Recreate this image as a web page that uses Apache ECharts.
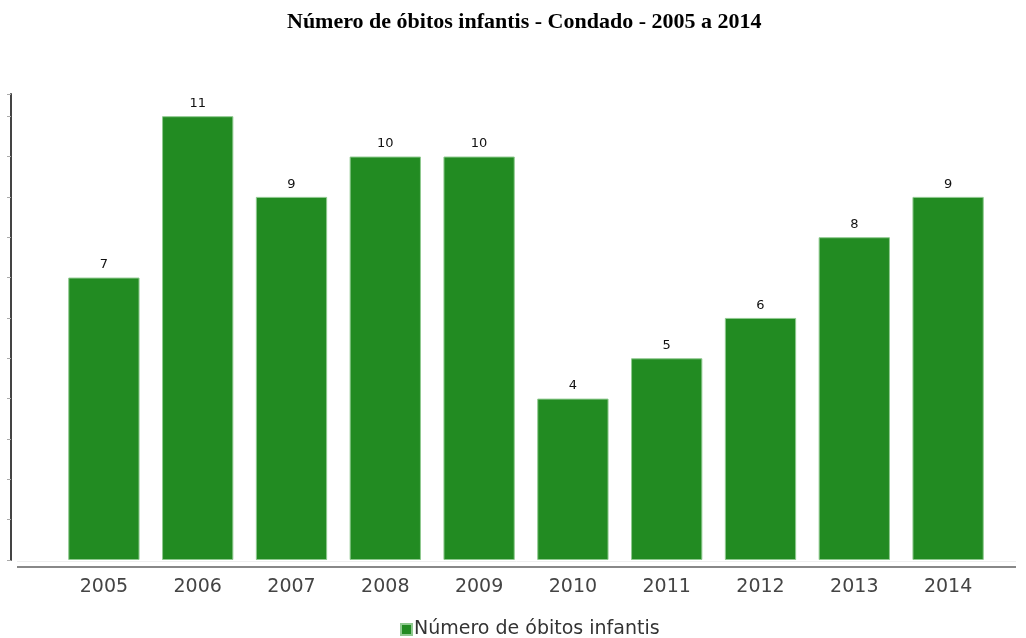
<!DOCTYPE html>
<html><head><meta charset="utf-8">
<script src="https://cdn.jsdelivr.net/npm/echarts@6/dist/echarts.min.js"></script>
<style>html,body{margin:0;padding:0;background:#fff}#c{width:1026px;height:638px}</style>
</head><body><div id="c"></div>
<script>
const categories = ['2005','2006','2007','2008','2009','2010','2011','2012','2013','2014'];
const obitos = [7, 11, 9, 10, 10, 4, 5, 6, 8, 9];
const seriesName = 'Número de óbitos infantis';
const titleText = 'Número de óbitos infantis - Condado - 2005 a 2014';

const chart = echarts.init(document.getElementById('c'));
chart.setOption({
  animation: false,
  backgroundColor: '#fff',
  title: {
    text: titleText, left: 282, top: 6,
    textStyle: {fontFamily: 'Liberation Serif', fontWeight: 'bold', fontSize: 22, color: '#000'}
  },
  legend: {
    bottom: -6, left: 395, itemWidth: 11, itemHeight: 11, itemGap: 4,
    icon: 'rect',
    textStyle: {fontFamily: 'DejaVu Sans', fontSize: 19, color: '#333', padding: [0, 0, 0, -3]},
    data: [seriesName]
  },
  grid: {left: 57, right: 31, top: 94, bottom: 78},
  xAxis: {
    type: 'category', data: categories,
    axisLine: {show: false},
    axisTick: {show: false},
    axisLabel: {fontFamily: 'DejaVu Sans', fontSize: 19, color: '#444', margin: 18}
  },
  yAxis: {
    type: 'value', min: 0, max: 11.55, interval: 1, offset: 46,
    axisLine: {show: true, lineStyle: {color: '#444', width: 2}},
    axisTick: {show: true, length: 4, lineStyle: {color: '#aaa'}},
    axisLabel: {show: false},
    splitLine: {show: false}
  },
  graphic: [
    {type: 'line', shape: {x1: 17, y1: 567, x2: 1016, y2: 567}, style: {stroke: '#888', lineWidth: 2}},
    {type: 'line', shape: {x1: 17, y1: 561.5, x2: 1016, y2: 561.5}, style: {stroke: '#eee', lineWidth: 1}}
  ],
  series: [{
    name: seriesName, type: 'bar', data: obitos, barWidth: '76%',
    itemStyle: {color: '#228b22', borderColor: '#8fc98f', borderWidth: 1},
    label: {show: true, position: 'top', distance: 6, fontFamily: 'DejaVu Sans', fontSize: 13, color: '#111'}
  }]
});
</script></body></html>
